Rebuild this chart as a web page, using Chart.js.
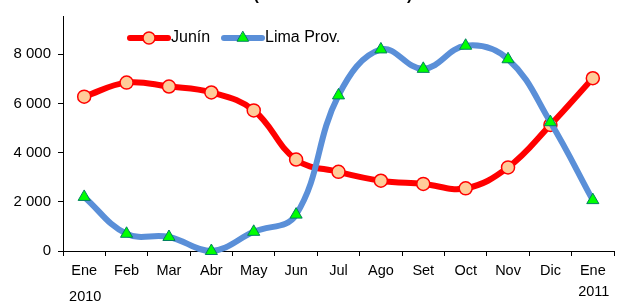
<!DOCTYPE html>
<html lang="es">
<head>
    <meta charset="UTF-8">
    <title>Junín y Lima Prov.</title>
    <script src="https://cdn.jsdelivr.net/npm/chart.js@4.4.1/dist/chart.umd.min.js"></script>
    <style>
        html, body { margin: 0; padding: 0; background: #fff; }
        #wrap { width: 622px; height: 304px; }
    </style>
</head>
<body>
<div id="wrap"><canvas id="myChart" width="622" height="304"></canvas></div>
<script>
    // datos
    const meses = ['Ene', 'Feb', 'Mar', 'Abr', 'May', 'Jun', 'Jul', 'Ago', 'Set', 'Oct', 'Nov', 'Dic', 'Ene'];
    const anios = ['2010', '2011'];
    const junin = [6280, 6850, 6690, 6450, 5720, 3720, 3220, 2860, 2730, 2550, 3400, 5130, 7030];
    const limaProv = [2200, 700, 570, 0, 780, 1480, 6330, 8200, 7410, 8350, 7800, 5240, 2070];
    const yTicks = [0, 2000, 4000, 6000, 8000];

    const fuente = "'Liberation Sans', Arial, sans-serif";

    function fmt(v){
        return String(v).replace(/\B(?=(\d{3})+(?!\d))/g, ' ');
    }

    // leyenda, años y título recortado
    const extras = {
        id: 'extras',
        afterDraw(chart){
            const ctx = chart.ctx;
            const x = chart.scales.x;
            ctx.save();

            // titulo (solo se ve la parte baja)
            ctx.fillStyle = '#000';
            ctx.font = 'bold 16px ' + fuente;
            ctx.textAlign = 'center';
            ctx.textBaseline = 'alphabetic';
            ctx.fillText('(Toneladas métricas)', 333, 0);

            // años
            ctx.font = '14.5px ' + fuente;
            ctx.textBaseline = 'middle';
            ctx.fillText(anios[0], x.getPixelForValue(0) + 1, 297);
            ctx.fillText(anios[1], x.getPixelForValue(meses.length - 1) + 1, 292);

            // leyenda
            const items = [
                {label: 'Junín', ds: chart.data.datasets[0], x0: 128},
                {label: 'Lima Prov.', ds: chart.data.datasets[1], x0: 222}
            ];
            const ly = 38;
            items.forEach(it => {
                ctx.strokeStyle = it.ds.borderColor;
                ctx.lineWidth = 6;
                ctx.lineCap = 'round';
                ctx.beginPath();
                ctx.moveTo(it.x0 + 2, ly);
                ctx.lineTo(it.x0 + 40, ly);
                ctx.stroke();
                ctx.fillStyle = it.ds.pointBackgroundColor;
                ctx.strokeStyle = it.ds.pointBorderColor;
                ctx.lineWidth = it.ds.pointBorderWidth;
                Chart.helpers.drawPoint(ctx, {
                    pointStyle: it.ds.pointStyle,
                    radius: it.ds.pointRadius - 0.5,
                    borderWidth: it.ds.pointBorderWidth,
                    rotation: 0
                }, it.x0 + 21, ly);
                ctx.fillStyle = '#000';
                ctx.font = '16px ' + fuente;
                ctx.textAlign = 'left';
                ctx.textBaseline = 'middle';
                ctx.fillText(it.label, it.x0 + 43, ly);
            });
            ctx.restore();
        }
    };

    const ctx = document.getElementById('myChart').getContext('2d');

    new Chart(ctx, {
        type: 'line',
        data: {
            labels: meses,
            datasets: [{
                label: 'Junín',
                data: junin,
                borderColor: '#ff0000',
                borderWidth: 6,
                pointStyle: 'circle',
                pointRadius: 6.5,
                pointBackgroundColor: '#ffcc99',
                pointBorderColor: '#ff0000',
                pointBorderWidth: 1.5,
                tension: 0.4,
                clip: false,
                order: 1
            }, {
                label: 'Lima Prov.',
                data: limaProv,
                borderColor: '#5a8fd8',
                borderWidth: 6,
                pointStyle: 'triangle',
                pointRadius: 7,
                pointBackgroundColor: '#00ff00',
                pointBorderColor: '#008060',
                pointBorderWidth: 1,
                tension: 0.4,
                clip: false,
                order: 0
            }]
        },
        options: {
            responsive: false,
            animation: false,
            layout: { padding: { top: 12, right: 6, left: 0, bottom: 0 } },
            plugins: {
                legend: { display: false },
                tooltip: { enabled: false }
            },
            scales: {
                x: {
                    offset: true,
                    grid: { drawOnChartArea: false, offset: true, tickLength: 5, color: '#000' },
                    border: { color: '#000', width: 1 },
                    ticks: { color: '#000', font: { family: fuente, size: 14.5 }, padding: 6, maxRotation: 0, autoSkip: false },
                    afterFit(s){ s.height = 53; }
                },
                y: {
                    min: 0,
                    max: 9560,
                    afterBuildTicks(s){ s.ticks = yTicks.map(v => ({value: v})); },
                    grid: { drawOnChartArea: false, tickLength: 5, color: '#000' },
                    border: { color: '#000', width: 1 },
                    ticks: { color: '#000', font: { family: fuente, size: 15 }, padding: 7, callback: v => fmt(v) },
                    afterFit(s){ s.width = 63; }
                }
            }
        },
        plugins: [extras]
    });
</script>
</body>
</html>
